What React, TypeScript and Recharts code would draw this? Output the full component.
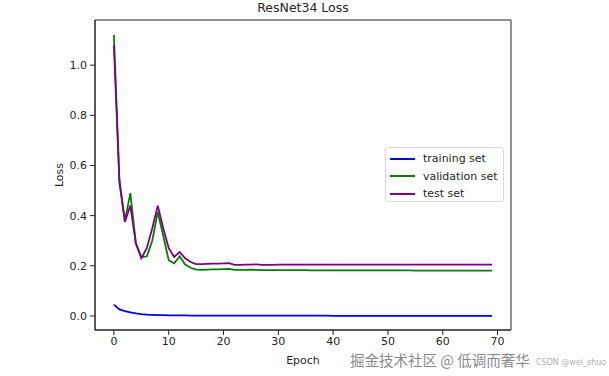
import { LineChart, Line, XAxis, YAxis, ReferenceArea, Label } from 'recharts'

const epochs = [
  0, 1, 2, 3, 4, 5, 6, 7, 8, 9,
  10, 11, 12, 13, 14, 15, 16, 17, 18, 19,
  20, 21, 22, 23, 24, 25, 26, 27, 28, 29,
  30, 31, 32, 33, 34, 35, 36, 37, 38, 39,
  40, 41, 42, 43, 44, 45, 46, 47, 48, 49,
  50, 51, 52, 53, 54, 55, 56, 57, 58, 59,
  60, 61, 62, 63, 64, 65, 66, 67, 68, 69,
]

const trainingLoss = [
  0.045, 0.026, 0.019, 0.014, 0.010, 0.007, 0.005, 0.004, 0.003, 0.003,
  0.002, 0.002, 0.002, 0.002, 0.001, 0.001, 0.001, 0.001, 0.001, 0.001,
  0.001, 0.001, 0.001, 0.001, 0.001, 0.001, 0.001, 0.001, 0.001, 0.001,
  0.001, 0.001, 0.001, 0.001, 0.001, 0.001, 0.001, 0.001, 0.001, 0.001,
  0.0005, 0.0005, 0.0005, 0.0005, 0.0005, 0.0005, 0.0005, 0.0005, 0.0005, 0.0005,
  0.0005, 0.0005, 0.0005, 0.0005, 0.0005, 0.0005, 0.0005, 0.0005, 0.0005, 0.0005,
  0.0005, 0.0005, 0.0005, 0.0005, 0.0005, 0.0005, 0.0005, 0.0005, 0.0005, 0.0005,
]

const validationLoss = [
  1.12, 0.53, 0.38, 0.49, 0.29, 0.235, 0.237, 0.30, 0.415, 0.32,
  0.222, 0.21, 0.238, 0.205, 0.192, 0.185, 0.184, 0.185, 0.186, 0.186,
  0.187, 0.188, 0.184, 0.184, 0.184, 0.185, 0.184, 0.183, 0.183, 0.183,
  0.183, 0.183, 0.183, 0.183, 0.183, 0.183, 0.182, 0.182, 0.182, 0.182,
  0.182, 0.182, 0.182, 0.182, 0.182, 0.182, 0.182, 0.182, 0.182, 0.182,
  0.182, 0.182, 0.182, 0.182, 0.182, 0.181, 0.181, 0.181, 0.181, 0.181,
  0.181, 0.181, 0.181, 0.181, 0.181, 0.181, 0.181, 0.181, 0.181, 0.181,
]

const testLoss = [
  1.078, 0.545, 0.375, 0.44, 0.29, 0.23, 0.27, 0.35, 0.44, 0.35,
  0.27, 0.235, 0.255, 0.23, 0.215, 0.207, 0.207, 0.208, 0.209, 0.209,
  0.21, 0.211, 0.204, 0.204, 0.205, 0.205, 0.206, 0.204, 0.204, 0.204,
  0.205, 0.205, 0.205, 0.205, 0.205, 0.205, 0.205, 0.205, 0.205, 0.205,
  0.205, 0.205, 0.205, 0.205, 0.205, 0.205, 0.205, 0.205, 0.205, 0.205,
  0.205, 0.205, 0.205, 0.205, 0.205, 0.205, 0.205, 0.205, 0.205, 0.205,
  0.205, 0.205, 0.205, 0.205, 0.205, 0.205, 0.205, 0.205, 0.205, 0.205,
]

const xTicks = [0, 10, 20, 30, 40, 50, 60, 70]
const yTicks = [0, 0.2, 0.4, 0.6, 0.8, 1.0]
const X_DOMAIN: [number, number] = [-3.45, 72.45]
const Y_DOMAIN: [number, number] = [-0.056, 1.18]

const SERIES = [
  { key: 'training', name: 'training set', color: '#0000ff' },
  { key: 'validation', name: 'validation set', color: '#008000' },
  { key: 'test', name: 'test set', color: '#800080' },
]

const FONT = '"DejaVu Sans", sans-serif'
const TEXT = '#262626'

export default function App() {
  const data = epochs.map((e, i) => ({
    epoch: e,
    training: trainingLoss[i],
    validation: validationLoss[i],
    test: testLoss[i],
  }))

  return (
    <div style={{ position: 'absolute', left: 0, top: 0, width: 609, height: 376, background: '#fff', fontFamily: FONT }}>
      <div style={{ position: 'absolute', left: 0, width: 606, top: 0, textAlign: 'center', fontSize: 12.5, color: TEXT, lineHeight: '16px' }}>
        ResNet34 Loss
      </div>
      <LineChart width={609} height={376} data={data} margin={{ top: 20, right: 98, bottom: 6, left: 45 }}>
        <XAxis
          dataKey="epoch"
          type="number"
          domain={X_DOMAIN}
          ticks={xTicks}
          allowDataOverflow
          height={40}
          tickSize={5}
          tick={{ fontSize: 11, fill: TEXT, fontFamily: FONT }}
          stroke="#222"
        >
          <Label
            content={({ viewBox }: any) => (
              <text x={viewBox.x + viewBox.width / 2} y={viewBox.y + 34} textAnchor="middle" fontSize={11} fill={TEXT} fontFamily={FONT}>
                Epoch
              </text>
            )}
          />
        </XAxis>
        <YAxis
          type="number"
          domain={Y_DOMAIN}
          ticks={yTicks}
          allowDataOverflow
          width={50}
          tickSize={5}
          tickMargin={3}
          tickFormatter={(v: number) => v.toFixed(1)}
          tick={{ fontSize: 11, fill: TEXT, fontFamily: FONT }}
          stroke="#222"
        >
          <Label
            content={({ viewBox }: any) => {
              const cx = viewBox.x + 15
              const cy = viewBox.y + viewBox.height / 2
              return (
                <text x={cx} y={cy} transform={`rotate(-90 ${cx} ${cy})`} textAnchor="middle" dominantBaseline="middle" fontSize={11} fill={TEXT} fontFamily={FONT}>
                  Loss
                </text>
              )
            }}
          />
        </YAxis>
        <ReferenceArea x1={X_DOMAIN[0]} x2={X_DOMAIN[1]} y1={Y_DOMAIN[0]} y2={Y_DOMAIN[1]} fill="none" stroke="#222" strokeWidth={1} fillOpacity={0} />
        {SERIES.map((s) => (
          <Line
            key={s.key}
            type="linear"
            dataKey={s.key}
            name={s.name}
            stroke={s.color}
            strokeWidth={1.8}
            dot={false}
            isAnimationActive={false}
          />
        ))}
      </LineChart>
      <div
        style={{
          position: 'absolute', left: 385, top: 147, width: 119, height: 55,
          border: '1px solid #d9d9d9', borderRadius: 3, background: 'rgba(255,255,255,0.8)',
          boxSizing: 'border-box', padding: '2px 0 0 4px',
        }}
      >
        {SERIES.map((s) => (
          <div key={s.key} style={{ display: 'flex', alignItems: 'center', height: 17.5, fontSize: 11, color: TEXT }}>
            <span style={{ display: 'inline-block', width: 25, height: 2, background: s.color, marginRight: 8 }} />
            {s.name}
          </div>
        ))}
      </div>
      <div style={{ position: 'absolute', left: 350, top: 352, fontSize: 14.5, color: '#8a8a8a', fontFamily: '"Noto Sans CJK SC", sans-serif', whiteSpace: 'nowrap', lineHeight: '16px' }}>
        掘金技术社区 @ 低调而奢华
      </div>
      <div style={{ position: 'absolute', left: 536, top: 358, fontSize: 8, color: '#b0b0b0', whiteSpace: 'nowrap', lineHeight: '10px' }}>
        CSDN @wei_shuo
      </div>
    </div>
  )
}
